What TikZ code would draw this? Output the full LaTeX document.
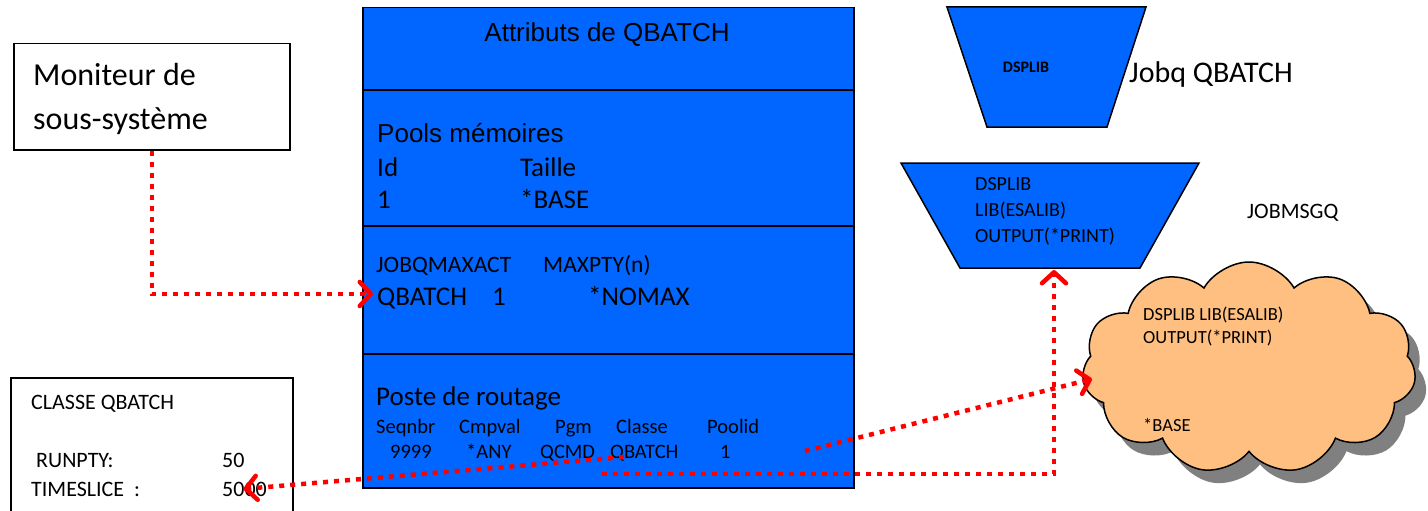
\documentclass[tikz,border=0pt]{standalone}
\usepackage{fontspec}
\setmainfont{Carlito}
\newfontfamily\arialf{Liberation Sans}
\usetikzlibrary{arrows.meta,shapes.symbols}
\definecolor{qblue}{RGB}{0,102,255}
\definecolor{cloudfill}{RGB}{255,191,128}
\definecolor{shadowgray}{RGB}{128,128,128}
\newcommand{\setfs}[1]{\fontsize{#1}{#1}\selectfont}
\tikzset{
  txt/.style={anchor=base west, inner sep=0pt, text=black},
  ctxt/.style={anchor=base, inner sep=0pt, text=black},
  frame/.style={draw=black, line width=1.5pt},
  flow/.style={draw=red, line width=4.5pt, dash pattern=on 5pt off 6pt,
    -{Straight Barb[length=11pt,width=24pt,round]}},
  puff/.style={cloud, cloud puffs=11, cloud puff arc=120, cloud ignores aspect,
    minimum width=334pt, minimum height=212pt, inner sep=0pt},
}
\begin{document}
\begin{tikzpicture}[x=1pt,y=-1pt]
\useasboundingbox (0,0) rectangle (1428,511);

% subsystem monitor
\node[frame, fill=white, anchor=north west, minimum width=276pt, minimum height=106pt,
      inner sep=0pt] (mon) at (13,43) {};
\node[txt, font=\setfs{32}] (montxt) at (33,86) {Moniteur de};
\node[txt, font=\setfs{32}] (montxt2) at (33,129) {sous-système};

% class description
\node[frame, fill=white, anchor=north west, minimum width=282pt, minimum height=150pt,
      inner sep=0pt] (cls) at (10,377) {};
\node[txt, font=\setfs{22}] (clsname) at (31,409) {CLASSE QBATCH};
\node[txt, font=\setfs{22}] (runpty) at (36,467) {RUNPTY:};
\node[txt, font=\setfs{22}] (v50) at (222,467) {50};
\node[txt, font=\setfs{22}] (tslice) at (31,496) {TIMESLICE~~:};
\node[txt, font=\setfs{22}] (t5000) at (222,496) {5000};

% subsystem attributes
\node[frame, fill=qblue, anchor=north west, minimum width=491pt, minimum height=480pt,
      inner sep=0pt] (attr) at (362,7) {};
\draw[frame] (362,90) -- (853,90);
\draw[frame] (362,226) -- (853,226);
\draw[frame] (362,354) -- (853,354);

\node[ctxt, font=\arialf\setfs{26}] (title) at (607,42) {Attributs de QBATCH};

\node[txt, font=\arialf\setfs{26}] (pools) at (377,142) {Pools mémoires};
\node[txt, font=\setfs{27}] (hid) at (377,176) {Id};
\node[txt, font=\setfs{27}] (htaille) at (520,176) {Taille};
\node[txt, font=\setfs{27}] (vid) at (377,208) {1};
\node[txt, font=\setfs{27}] (vbase) at (520,208) {*BASE};

\node[txt, font=\setfs{23.5}] (hjobq) at (376,272) {JOBQMAXACT};
\node[txt, font=\setfs{23.5}] (hmaxpty) at (543,272) {MAXPTY(n)};
\node[txt, font=\setfs{27}] (qbatch) at (377,305) {QBATCH};
\node[txt, font=\setfs{27}] (qmax) at (492,305) {1};
\node[txt, font=\setfs{27}] (qnomax) at (588,305) {*NOMAX};

\node[txt, font=\setfs{27}] (route) at (376,405) {Poste de routage};
\node[txt, font=\setfs{20.5}] (hseq) at (376,433) {Seqnbr};
\node[txt, font=\setfs{20.5}] (hcmp) at (459,433) {Cmpval};
\node[txt, font=\setfs{20.5}] (hpgm) at (555,433) {Pgm};
\node[txt, font=\setfs{20.5}] (hcls) at (616,433) {Classe};
\node[txt, font=\setfs{20.5}] (hpool) at (707,433) {Poolid};
\node[txt, font=\setfs{20.5}] (vseq) at (390,458) {9999};
\node[txt, font=\setfs{20.5}] (vcmp) at (466,458) {*ANY};
\node[txt, font=\setfs{20.5}] (vpgm) at (540,458) {QCMD};
\node[txt, font=\setfs{20.5}] (vcls) at (610,458) {QBATCH};
\node[txt, font=\setfs{20.5}] (vpool) at (720,458) {1};

% job queue
\draw[frame, fill=qblue] (947,7) -- (1146,7) -- (1107,127) -- (987,127) -- cycle;
\node[ctxt, font=\bfseries\setfs{16}] (jq) at (1026,73) {DSPLIB};
\node[txt, font=\setfs{30}] (jqname) at (1129,82) {Jobq QBATCH};

% queued job
\draw[frame, fill=qblue] (901,163) -- (1199,163) -- (1140,268) -- (960,268) -- cycle;
\coordinate (jobin) at (1054,270);
\node[txt, font=\setfs{20}] (j1) at (975,190) {DSPLIB};
\node[txt, font=\setfs{20}] (j2) at (975,216) {LIB(ESALIB)};
\node[txt, font=\setfs{20}] (j3) at (975,242) {OUTPUT(*PRINT)};

\node[txt, font=\setfs{22}] (msgq) at (1247,218) {JOBMSGQ};

% running job
\node[puff, fill=shadowgray] (clshadow) at (1260,381) {};
\node[puff, fill=cloudfill, draw=black, line width=1.5pt] (job) at (1249,368) {};
\node[txt, font=\setfs{18.5}] (c1) at (1143,320) {DSPLIB LIB(ESALIB)};
\node[txt, font=\setfs{18.5}] (c2) at (1143,343) {OUTPUT(*PRINT)};
\node[txt, font=\setfs{18.5}] (c3) at (1143,431) {*BASE};

% connectors
\coordinate (qbin) at (373,294);
\coordinate (routeA) at (624,457);
\coordinate (routeB) at (805,451);
\coordinate (routeC) at (602,474);
\coordinate (jobenter) at (1092,379);

\draw[flow] (mon.south) |- (qbin);
\draw[flow] (routeA) -- ([xshift=-1pt]t5000.center);
\draw[flow] (routeB) -- (jobenter);
\draw[flow] (routeC) -| (jobin);
\end{tikzpicture}
\end{document}
